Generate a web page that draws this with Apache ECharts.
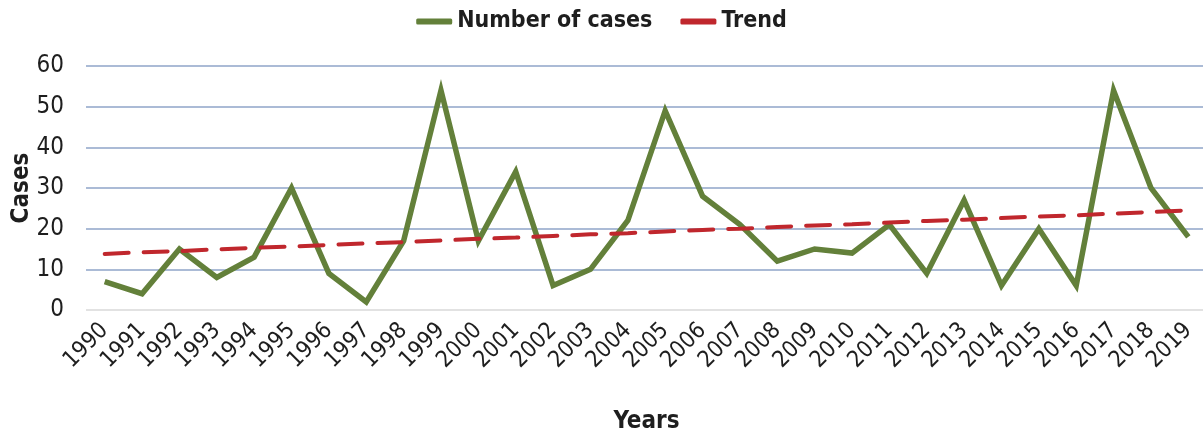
<!DOCTYPE html>
<html><head><meta charset="utf-8">
<script src="https://cdn.jsdelivr.net/npm/echarts@6/dist/echarts.min.js"></script>
<style>html,body{margin:0;padding:0;background:#fff}#c{width:1203px;height:432px}</style>
</head><body><div id="c"></div>
<script>
const years = ["1990","1991","1992","1993","1994","1995","1996","1997","1998","1999","2000","2001","2002","2003","2004","2005","2006","2007","2008","2009","2010","2011","2012","2013","2014","2015","2016","2017","2018","2019"];
const cases = [7,4,15,8,13,30,9,2,17,54,17,34,6,10,22,49,28,21,12,15,14,21,9,27,6,20,6,54,30,18];
const trend = [13.8,14.2,14.5,14.9,15.3,15.6,16.0,16.4,16.7,17.1,17.5,17.8,18.2,18.6,18.9,19.3,19.7,20.0,20.4,20.8,21.1,21.5,21.9,22.2,22.6,23.0,23.3,23.7,24.1,24.5];
const yTicks = [0,10,20,30,40,50,60];

const FONT = "'DejaVu Sans Condensed', 'Liberation Sans Narrow', sans-serif";
const chart = echarts.init(document.getElementById('c'), null, {renderer:'canvas'});
chart.setOption({
  animation:false,
  textStyle:{fontFamily:FONT},
  legend:{
    top:5, left:'center', itemGap:28, itemWidth:36, itemHeight:6,
    textStyle:{fontFamily:FONT, fontWeight:'bold', fontSize:23, color:'#1e1e1e'},
    data:[{name:'Number of cases', icon:'roundRect'},{name:'Trend', icon:'roundRect'}]
  },
  grid:{left:86, right:-4, top:66, bottom:122, containLabel:false, outerBoundsMode:'none'},
  xAxis:{
    type:'category', data:years, boundaryGap:true,
    name:'Years', nameLocation:'middle', nameGap:100, nameMoveOverlap:false,
    nameTextStyle:{fontFamily:FONT, fontWeight:'bold', fontSize:24, color:'#1e1e1e'},
    axisLine:{show:false}, axisTick:{show:false},
    axisLabel:{rotate:45, fontSize:23, color:'#1e1e1e', fontFamily:FONT, margin:17, interval:0}
  },
  yAxis:{
    type:'value', min:yTicks[0], max:yTicks[yTicks.length-1], interval:10,
    name:'Cases', nameLocation:'middle', nameGap:52, nameMoveOverlap:false,
    nameTextStyle:{fontFamily:FONT, fontWeight:'bold', fontSize:24, color:'#1e1e1e'},
    axisLine:{show:false}, axisTick:{show:false},
    axisLabel:{fontSize:24, color:'#1e1e1e', fontFamily:FONT, margin:22},
    splitLine:{lineStyle:{color:['#d9d9d9','#8fa5c9','#8fa5c9','#8fa5c9','#8fa5c9','#8fa5c9','#8fa5c9'], width:1.5}}
  },
  series:[
    {name:'Number of cases', type:'line', data:cases, symbol:'none',
     itemStyle:{color:'#63803a'},
     lineStyle:{color:'#63803a', width:5.5, join:'miter'}},
    {name:'Trend', type:'line', data:trend, symbol:'none', z:3,
     itemStyle:{color:'#c0272d'},
     lineStyle:{color:'#c0272d', width:4, type:[24,15], cap:'round'}}
  ]
});
</script></body></html>
